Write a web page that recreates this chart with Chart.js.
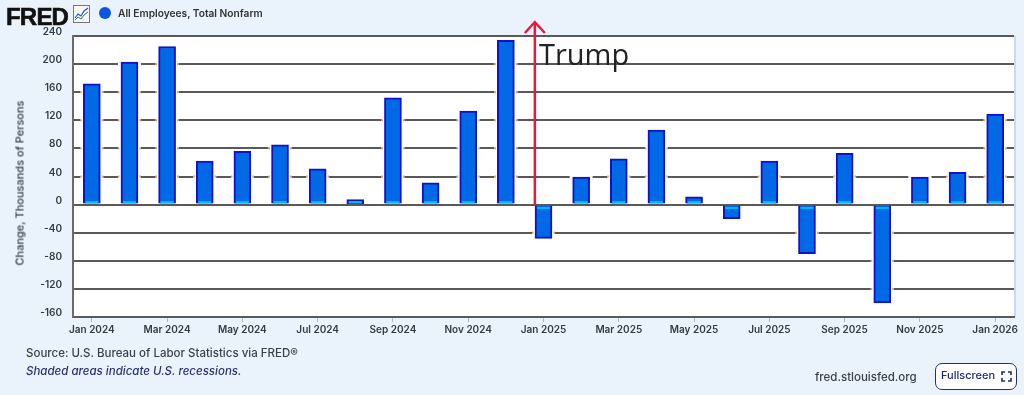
<!DOCTYPE html>
<html>
<head>
<meta charset="utf-8">
<title>All Employees, Total Nonfarm</title>
<script src="https://cdn.jsdelivr.net/npm/chart.js@4"></script>
<style>
    html, body { margin: 0; padding: 0; background: #eaf2fb; }
    #page { position: relative; width: 1024px; height: 395px; overflow: hidden; font-family: Inter, Roboto, sans-serif; }
    #page canvas { position: absolute; left: 0; top: 0; }
    .txt { position: absolute; white-space: nowrap; line-height: 1; }
    #logo { left: 6px; top: 3px; font: 900 24px "Liberation Sans", sans-serif; letter-spacing: -0.8px; color: #111; -webkit-text-stroke: 0.6px #111; }
    #icon { position: absolute; left: 73px; top: 5px; }
    #dot { position: absolute; left: 99px; top: 7px; width: 12px; height: 12px; border-radius: 50%; background: #0a56e0; }
    #legend { left: 118px; top: 8px; font-size: 10.2px; font-weight: 600; color: #333; }
    #ytitulo { left: 20px; top: 183px; font-size: 11px; font-weight: 500; color: #333a46; transform: translate(-50%, -50%) rotate(-90deg); }
    #trump { left: 539px; top: 34px; font: 29px "Open Sans", sans-serif; color: #222; }
    #source { left: 26px; top: 348px; font-size: 11.5px; font-weight: 500; color: #3a3f48; }
    #shaded { left: 26px; top: 366px; font-size: 11.5px; font-style: italic; font-weight: 500; color: #2c3270; }
    #site { left: 815px; top: 372px; font-size: 11.5px; font-weight: 500; color: #3a3f48; }
    #full { position: absolute; left: 935px; top: 363px; width: 80px; height: 25px; border: 1.5px solid #27306e; border-radius: 7px; background: #fff; }
    #fulltxt { left: 5px; top: 6px; font-size: 11px; font-weight: 500; color: #1e2a78; }
    #fullicon { position: absolute; left: 65px; top: 7px; }
</style>
</head>
<body>
<div id="page">
    <canvas id="myChart" width="1024" height="395"></canvas>
    <div class="txt" id="logo">FRED</div>
    <svg id="icon" width="17" height="18" viewBox="0 0 17 18">
        <rect x="0.5" y="0.5" width="16" height="17" fill="#f4f6f8" stroke="#777"></rect>
        <polyline points="2,13 5,9 8,11 11,6 15,3" fill="none" stroke="#2a55c8" stroke-width="1.2"></polyline>
        <polyline points="2,15 5,12 8,14 11,10 15,7" fill="none" stroke="#3d7a4a" stroke-width="1"></polyline>
    </svg>
    <div id="dot"></div>
    <div class="txt" id="legend">All Employees, Total Nonfarm</div>
    <div class="txt" id="ytitulo">Change, Thousands of Persons</div>
    <div class="txt" id="trump">Trump</div>
    <div class="txt" id="source">Source: U.S. Bureau of Labor Statistics via FRED®</div>
    <div class="txt" id="shaded">Shaded areas indicate U.S. recessions.</div>
    <div class="txt" id="site">fred.stlouisfed.org</div>
    <div id="full">
        <div class="txt" id="fulltxt">Fullscreen</div>
        <svg id="fullicon" width="11" height="11" viewBox="0 0 11 11" fill="none" stroke="#1e2a78" stroke-width="1.6">
            <path d="M1,4 V1 H4 M7,1 H10 V4 M10,7 V10 H7 M4,10 H1 V7"></path>
        </svg>
    </div>
</div>
<script>
let meses = ["Jan 2024", "Feb 2024", "Mar 2024", "Apr 2024", "May 2024", "Jun 2024", "Jul 2024", "Aug 2024", "Sep 2024",
    "Oct 2024", "Nov 2024", "Dec 2024", "Jan 2025", "Feb 2025", "Mar 2025", "Apr 2025", "May 2025", "Jun 2025", "Jul 2025",
    "Aug 2025", "Sep 2025", "Oct 2025", "Nov 2025", "Dec 2025", "Jan 2026"];
let valores = [172, 203, 225, 62, 76, 85, 51, 7, 152, 31, 133, 234, -48, 39, 65, 106, 11, -20, 62, -70, 73, -140, 39, 46, 129];
let yMin = -160;
let yMax = 240;
let yStep = 40;
let serieNome = "All Employees, Total Nonfarm";
let setaIndice = 11.77; // arrow sits between Dec 2024 and Jan 2025

// white plot background and the pale right edge
let fundoPlugin = {
    id: "fundo",
    beforeDraw: function (chart) {
        let a = chart.chartArea;
        chart.ctx.fillStyle = "#ffffff";
        chart.ctx.fillRect(a.left, a.top, a.width, a.height);
        chart.ctx.fillStyle = "#c9d9f5";
        chart.ctx.fillRect(a.right, a.top, 2, a.height);
    }
};

// white halo and orange gridline ends around each bar
function desenhaHalo(chart) {
    let ctx = chart.ctx;
    let yScale = chart.scales.y;
    chart.getDatasetMeta(0).data.forEach(function (bar) {
        let esq = bar.x - bar.width / 2;
        let dir = bar.x + bar.width / 2;
        let topo = Math.min(bar.y, bar.base);
        let baixo = Math.max(bar.y, bar.base);
        ctx.fillStyle = "#ffffff";
        if (bar.y < bar.base) {
            ctx.fillRect(esq - 3, topo - 2, bar.width + 6, baixo - topo + 1);
        } else {
            ctx.fillRect(esq - 3, topo + 1, bar.width + 6, baixo - topo + 1);
        }
        ctx.fillStyle = "#e0a040";
        yScale.ticks.forEach(function (t) {
            let py = yScale.getPixelForValue(t.value);
            if (py > topo + 3 && py < baixo - 3) {
                ctx.fillRect(esq - 3, py - 1, 1.5, 2);
                ctx.fillRect(dir + 1.5, py - 1, 1.5, 2);
            }
        });
    });
}

// cyan strip at the base of each bar
function desenhaBase(chart) {
    let ctx = chart.ctx;
    ctx.fillStyle = "#00b8f2";
    chart.getDatasetMeta(0).data.forEach(function (bar) {
        let y = bar.y < bar.base ? Math.round(bar.base) - 3 : Math.round(bar.base) + 1;
        ctx.fillRect(bar.x - bar.width / 2 + 2, y, bar.width - 4, 2);
    });
}

// red arrow rising from the zero line past the top of the plot
function desenhaSeta(chart) {
    let ctx = chart.ctx;
    let x = chart.scales.x.getPixelForValue(setaIndice);
    let base = chart.scales.y.getPixelForValue(0);
    let topo = chart.scales.y.getPixelForValue(yMax) - 14;
    ctx.save();
    ctx.strokeStyle = "#e8193c";
    ctx.lineWidth = 2.5;
    ctx.beginPath();
    ctx.moveTo(x, base);
    ctx.lineTo(x, topo);
    ctx.moveTo(x - 10, topo + 11);
    ctx.lineTo(x, topo);
    ctx.lineTo(x + 10, topo + 11);
    ctx.stroke();
    ctx.restore();
}

let marcasPlugin = {
    id: "marcas",
    beforeDatasetsDraw: desenhaHalo,
    afterDatasetsDraw: desenhaBase,
    afterDraw: desenhaSeta
};

let fonteEixo = { family: "Inter, Roboto, sans-serif", size: 10, weight: "600" };

new Chart(document.getElementById("myChart"), {
    type: "bar",
    data: {
        labels: meses,
        datasets: [{
            label: serieNome,
            data: valores,
            backgroundColor: "#0069e6",
            borderColor: "#1212c4",
            borderWidth: 2,
            barThickness: 17
        }]
    },
    options: {
        responsive: false,
        animation: false,
        layout: { padding: { top: 36, right: 10, bottom: 57, left: 0 } },
        plugins: {
            legend: { display: false },
            tooltip: { enabled: false }
        },
        scales: {
            x: {
                offset: true,
                afterFit: function (scale) { scale.height = 21; },
                grid: { offset: false, drawOnChartArea: false, color: "#aab4dc", tickLength: 5 },
                border: { color: "#5a5a5a", width: 2 },
                ticks: {
                    autoSkip: true,
                    maxTicksLimit: 13,
                    maxRotation: 0,
                    padding: 2,
                    color: "#333a46",
                    font: fonteEixo
                }
            },
            y: {
                min: yMin,
                max: yMax,
                afterFit: function (scale) { scale.width = 73; },
                grid: { color: "#595959", lineWidth: 2, drawTicks: false },
                border: { color: "#6a6a6a", width: 2 },
                ticks: {
                    stepSize: yStep,
                    labelOffset: -4,
                    padding: 11,
                    color: "#333a46",
                    font: fonteEixo
                }
            }
        }
    },
    plugins: [fundoPlugin, marcasPlugin]
});
</script>
</body>
</html>
